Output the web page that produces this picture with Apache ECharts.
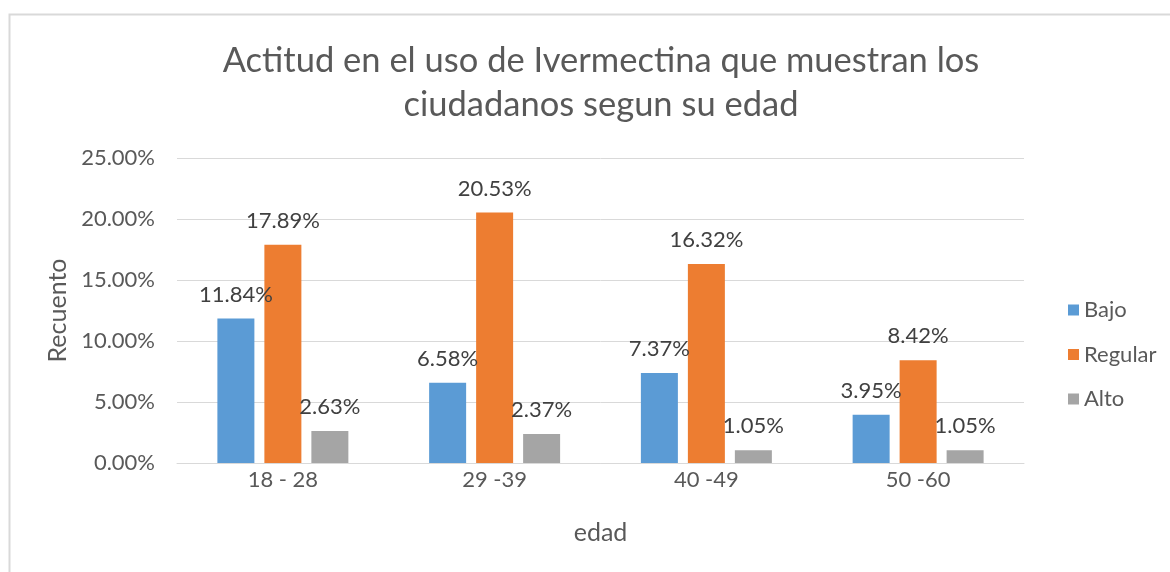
<!DOCTYPE html>
<html>
<head>
<meta charset="utf-8">
<script src="https://cdn.jsdelivr.net/npm/echarts@6/dist/echarts.min.js"></script>
<style>
  html, body { margin: 0; padding: 0; background: #fff; }
  #chart { width: 1170px; height: 572px; }
</style>
</head>
<body>
<div id="chart"></div>
<script>
const categories = ['18 - 28', '29 -39', '40 -49', '50 -60']
const bajo = [11.84, 6.58, 7.37, 3.95]
const regular = [17.89, 20.53, 16.32, 8.42]
const alto = [2.63, 2.37, 1.05, 1.05]
const yTicks = [0, 5, 10, 15, 20, 25]

const fontFamily = 'Lato, "Open Sans", sans-serif'
const textColor = '#595959'

const myChart = echarts.init(document.getElementById('chart'))

// etiquetas encima de cada barra
const barLabel = {
  show: true,
  position: 'top',
  distance: 13,
  fontSize: 22,
  fontFamily: fontFamily,
  color: '#404040',
  formatter: p => p.value.toFixed(2) + '%'
}

function makeSeries (name, data, color) {
  return {
    name: name,
    type: 'bar',
    data: data,
    barWidth: 37,
    barGap: '27%',
    itemStyle: { color: color },
    label: barLabel
  }
}

const option = {
  animation: false,
  textStyle: { fontFamily: fontFamily },
  graphic: [
    {
      type: 'rect',
      shape: { x: 9.5, y: 14.5, width: 1200, height: 600 },
      style: { fill: 'none', stroke: '#d9d9d9', lineWidth: 2 },
      silent: true
    }
  ],
  title: {
    text: 'Actitud en el uso de Ivermectina que muestran los\nciudadanos segun su edad',
    left: 596,
    textAlign: 'center',
    top: 34,
    textStyle: {
      fontSize: 34.5,
      fontWeight: 'normal',
      color: textColor,
      lineHeight: 44,
      fontFamily: fontFamily
    }
  },
  legend: {
    orient: 'vertical',
    left: 1063,
    top: 294,
    itemWidth: 11,
    itemHeight: 11,
    itemGap: 22.5,
    icon: 'rect',
    textStyle: { fontSize: 22, color: textColor, fontFamily: fontFamily },
    data: ['Bajo', 'Regular', 'Alto']
  },
  grid: {
    left: 177,
    right: 146,
    top: 158,
    bottom: 109
  },
  xAxis: {
    type: 'category',
    data: categories,
    name: 'edad',
    nameLocation: 'middle',
    nameGap: 57,
    nameTextStyle: { fontSize: 25, color: textColor, fontFamily: fontFamily },
    axisLine: { lineStyle: { color: '#d9d9d9', width: 1 } },
    axisTick: { show: false },
    axisLabel: { fontSize: 22, color: textColor, margin: 6, fontFamily: fontFamily }
  },
  yAxis: {
    type: 'value',
    min: yTicks[0],
    max: yTicks[yTicks.length - 1],
    interval: 5,
    name: 'Recuento',
    nameLocation: 'middle',
    nameGap: 103,
    nameTextStyle: { fontSize: 25, color: textColor, fontFamily: fontFamily },
    axisLine: { show: false },
    axisTick: { show: false },
    splitLine: { lineStyle: { color: '#d9d9d9', width: 1 } },
    axisLabel: {
      fontSize: 22,
      color: textColor,
      margin: 22,
      fontFamily: fontFamily,
      formatter: v => v.toFixed(2) + '%'
    }
  },
  series: [
    makeSeries('Bajo', bajo, '#5b9bd5'),
    makeSeries('Regular', regular, '#ed7d31'),
    makeSeries('Alto', alto, '#a5a5a5')
  ]
}

myChart.setOption(option)
</script>
</body>
</html>
